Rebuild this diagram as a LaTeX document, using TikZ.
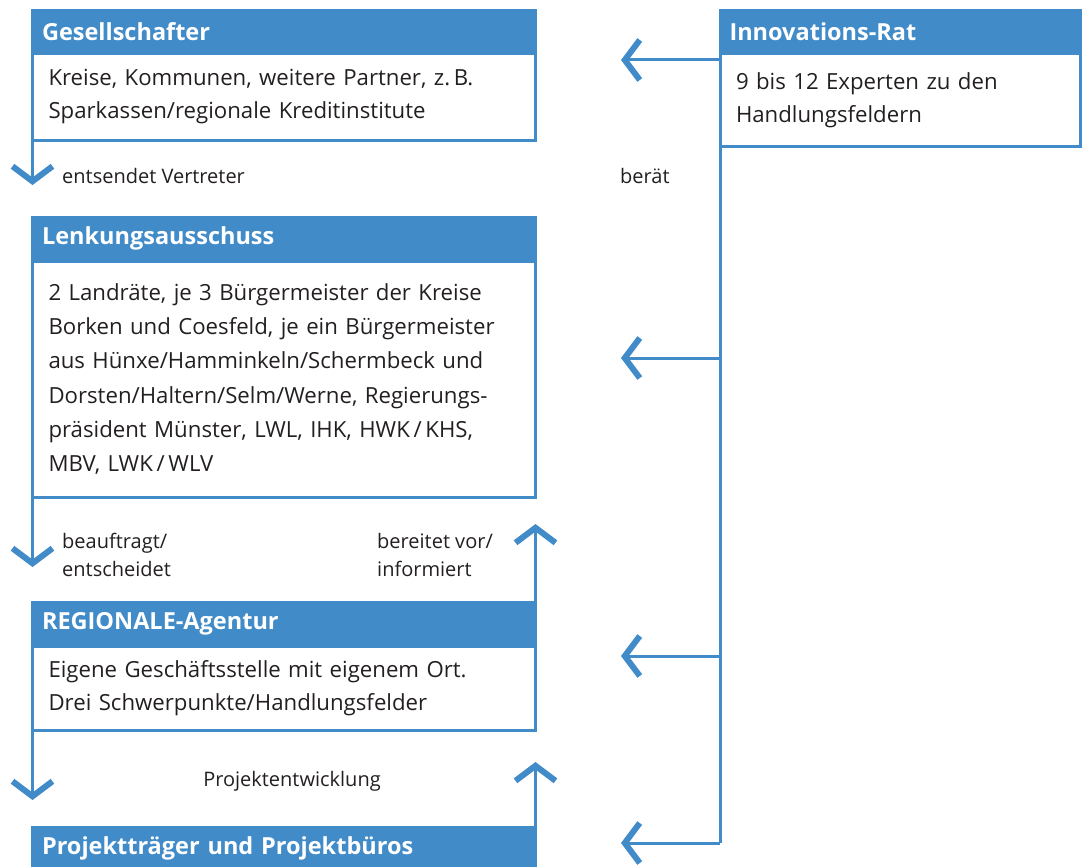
\documentclass[tikz,border=0pt]{standalone}
\usepackage{fontspec}
\setmainfont{Open Sans}
\usetikzlibrary{arrows.meta}
\definecolor{rblau}{RGB}{65,139,201}
\definecolor{rtext}{RGB}{35,31,32}

\tikzset{
  kopf/.style={fill=rblau, text=white, font=\fontsize{23.5}{27}\selectfont\bfseries,
    anchor=north west, inner xsep=11pt, inner ysep=0pt, minimum height=45pt, outer sep=0pt},
  koerper/.style={draw=rblau, line width=3pt, text=rtext, font=\fontsize{22.2}{33}\selectfont,
    anchor=north west, align=left, inner xsep=16pt, outer sep=0pt},
  pfeil/.style={draw=rblau, line width=3pt, -{Straight Barb[length=15pt,width=40pt,line width=6pt]}},
  linie/.style={draw=rblau, line width=3pt},
  marke/.style={text=rtext, font=\fontsize{20}{28}\selectfont, align=left, anchor=west, inner sep=0pt},
}

\begin{document}
\begin{tikzpicture}[x=1pt,y=-1pt]
  \useasboundingbox (0,0) rectangle (1087,867);

  % Kästen links
  \node[koerper, text width=471pt, minimum height=86pt] (GB) at (32.5,54)
    {Kreise, Kommunen, weitere Partner, z.\,B.\\Sparkassen/regionale Kreditinstitute};
  \node[kopf, text width=484pt] (GH) at (31,9) {Gesellschafter};

  \node[koerper, text width=471pt, minimum height=236pt, font=\fontsize{22.2}{34.3}\selectfont] (LB) at (32.5,261)
    {2 Landräte, je 3 Bürgermeister der Kreise\\Borken und Coesfeld, je ein Bürgermeister\\aus Hünxe/Hamminkeln/Schermbeck und\\Dorsten/Haltern/Selm/Werne, Regierungs-\\präsident Münster, LWL, IHK, HWK\,/\,KHS,\\MBV, LWK\,/\,WLV};
  \node[kopf, text width=484pt] (LH) at (31,216) {Lenkungsausschuss};

  \node[koerper, text width=471pt, minimum height=84pt] (RB) at (32.5,646)
    {Eigene Geschäftsstelle mit eigenem Ort.\\Drei Schwerpunkte/Handlungsfelder};
  \node[kopf, text width=484pt] (RH) at (31,601) {REGIONALE-Agentur};

  \node[kopf, text width=484pt] (PH) at (31,826) {Projektträger und Projektbüros};

  % Kasten rechts
  \node[koerper, text width=328pt, minimum height=92pt] (IB) at (720,54)
    {9 bis 12 Experten zu den\\Handlungsfeldern};
  \node[kopf, text width=341.5pt] (IH) at (718.5,9) {Innovations-Rat};

  % Pfeile links
  \coordinate (T1) at (32.5,185);
  \coordinate (T2) at (32.5,567);
  \coordinate (T3) at (32.5,800);
  \draw[pfeil] (GB.south west) -- (T1);
  \draw[pfeil] (LB.south west) -- (T2);
  \draw[pfeil] (RB.south west) -- (T3);

  % Pfeile nach oben
  \coordinate (U1) at (535.5,524);
  \coordinate (U2) at (535.5,762);
  \draw[pfeil] (RH.north east -| U1) -- (U1);
  \draw[pfeil] (PH.north east -| U2) -- (U2);

  % Innovations-Rat berät
  \coordinate (S) at (720,843);
  \draw[linie] (IB.south west) -- (S);
  \coordinate (A1) at (720,60);  \coordinate (B1) at (621,60);
  \coordinate (A2) at (720,358); \coordinate (B2) at (621,358);
  \coordinate (A3) at (720,656); \coordinate (B3) at (621,656);
  \draw[pfeil] (A1) -- (B1);
  \draw[pfeil] (A2) -- (B2);
  \draw[pfeil] (A3) -- (B3);
  \draw[pfeil] (S) -- (B3 |- S);

  % Beschriftungen
  \node[marke] (M1) at (62,176) {entsendet Vertreter};
  \node[marke] (M2) at (620,176) {berät};
  \node[marke] (M3) at (62,555) {beauftragt/\\entscheidet};
  \node[marke] (M4) at (377,555) {bereitet vor/\\informiert};
  \node[marke, anchor=center] (M5) at (292,781) {Projektentwicklung};
\end{tikzpicture}
\end{document}
